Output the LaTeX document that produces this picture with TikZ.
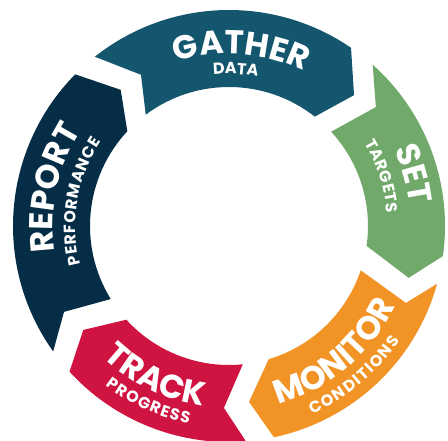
\documentclass[tikz,border=0pt]{standalone}
\usepackage{fontspec}
\setmainfont{Poppins}
\usetikzlibrary{decorations.text}
\definecolor{cgather}{HTML}{15566F}
\definecolor{creport}{HTML}{062D46}
\definecolor{cset}{HTML}{70A96A}
\definecolor{cmonitor}{HTML}{F19425}
\definecolor{ctrack}{HTML}{D01442}
\newcommand\bigf{\bfseries\fontsize{33pt}{33pt}\selectfont}
\newcommand\smallf{\bfseries\fontsize{16pt}{16pt}\selectfont}
% segment: colour, tail outer/mid/midradius/inner, head outer/mid/midradius/inner
\newcommand\seg[9]{\fill[#1] (#2:216pt) arc[start angle=#2, end angle=#6, radius=216pt] -- (#7:#8pt) -- (#9:139pt) arc[start angle=#9, end angle=#5, radius=139pt] -- (#3:#4pt) -- cycle;}
\newcommand\cwtext[5]{\path[decorate,decoration={text along path,text align=center,text color=white,text={|#4|#5}}] (#2+#3:#1pt) arc[start angle=#2+#3, end angle=#2-#3, radius=#1pt];}
\newcommand\ccwtext[5]{\path[decorate,decoration={text along path,text align=center,text color=white,text={|#4|#5}}] (#2-#3:#1pt) arc[start angle=#2-#3, end angle=#2+#3, radius=#1pt];}
% small letter-spaced text: radius, centre angle, extra half-gap (pt), text
\newcommand\cwsmall[4]{\path[decorate,decoration={text effects along path,text={#4},text align=center,text effects/.cd,text along path,characters={text=white,font=\smallf},character widths={font=\smallf,inner xsep=#3pt}}] (#2+45:#1pt) arc[start angle=#2+45, end angle=#2-45, radius=#1pt];}
\newcommand\ccwsmall[4]{\path[decorate,decoration={text effects along path,text={#4},text align=center,text effects/.cd,text along path,characters={text=white,font=\smallf},character widths={font=\smallf,inner xsep=#3pt}}] (#2-45:#1pt) arc[start angle=#2-45, end angle=#2+45, radius=#1pt];}
\begin{document}
\begin{tikzpicture}[x=1pt,y=1pt]
\useasboundingbox (0,0) rectangle (448,440);
\clip (0,0) rectangle (448,440);
\begin{scope}[shift={(229pt,214pt)}]
\seg{cgather}{128.4}{120.2}{175}{126.8}{55.6}{46.3}{181}{51.9}
\seg{cset}{48.3}{39.0}{189}{42.7}{-8}{-16.1}{187}{-8.2}
\seg{cmonitor}{-15.5}{-23.5}{193}{-18.6}{-78}{-83.5}{177}{-73.4}
\seg{ctrack}{-85.5}{-91.6}{182}{-84.3}{-137.6}{-144.5}{179}{-137.6}
\seg{creport}{215.5}{207.5}{186}{211.7}{135.4}{128.5}{174}{137}
\cwtext{172}{86}{45}{\bigf}{GATHER}
\cwsmall{152}{87.5}{0}{DATA}
\cwtext{182}{15.8}{40}{\bigf}{SET}
\cwsmall{158.5}{18}{0.2}{TARGETS}
\cwtext{176}{167.8}{45}{\bigf}{REPORT}
\cwsmall{153.5}{170.5}{0.4}{PERFORMANCE}
\ccwtext{185}{-50}{45}{\bigf}{MONITOR}
\ccwsmall{205.5}{-50}{0.8}{CONDITIONS}
\ccwtext{182}{-116}{40}{\bigf}{TRACK}
\ccwsmall{201.5}{-114.6}{0.6}{PROGRESS}
\end{scope}
\end{tikzpicture}
\end{document}
